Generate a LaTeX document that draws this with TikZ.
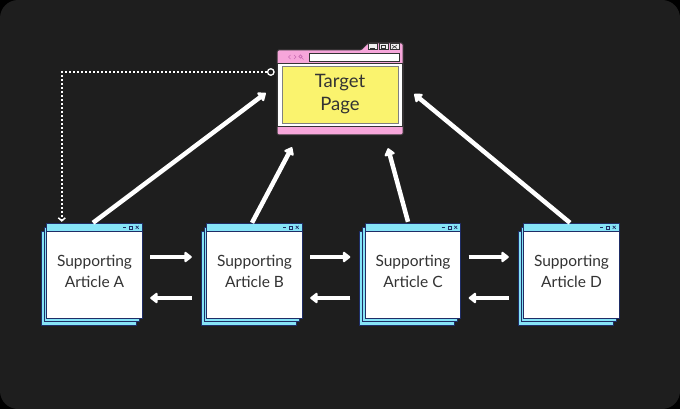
\documentclass[tikz,border=0pt]{standalone}
\usepackage{fontspec}
\setmainfont{Lato}
\usetikzlibrary{arrows.meta,calc}
\definecolor{bg}{HTML}{1E1E1E}
\definecolor{pinkc}{HTML}{F6A6DA}
\definecolor{pinkd}{HTML}{C86CB2}
\definecolor{yel}{HTML}{FAF36E}
\definecolor{cyanc}{HTML}{86E4F7}
\definecolor{navy}{HTML}{1F2D66}
\definecolor{framec}{HTML}{333333}
\definecolor{txt}{HTML}{333333}
\tikzset{
  cardedge/.style={draw=navy, line width=1.1pt},
  card/.style={fill=white, inner sep=0pt, minimum width=95pt, minimum height=94pt,
    align=center, text=txt, font=\fontsize{15.5}{21}\selectfont},
  tgtbox/.style={fill=yel, draw=gray, line width=0.9pt, inner sep=0pt, minimum width=116pt,
    minimum height=57pt, align=center, text=txt, font=\fontsize{18.5}{23}\selectfont},
  bigarrow/.style={white, line width=4.5pt, -{Triangle[length=8pt,width=12pt,round]}},
  dotline/.style={white, line width=2pt, dash pattern=on 1.8pt off 2.2pt,
    -{Straight Barb[length=3pt,width=7pt,line width=1.5pt]}},
}
\newcommand\mkcard[4]{%
  \foreach \d in {2,1}{\draw[cardedge, fill=cyanc] (#2-47.5-2.8*\d, #3-47+3.8*\d) rectangle ++(95,94);}
  \node[card] (#1) at (#2,#3) {#4};
  \fill[cyanc] (#1.north west) rectangle ($(#1.north east)+(0,7)$);
  \draw[navy, line width=0.6pt] ($(#1.north west)+(0,7)$) -- ($(#1.north east)+(0,7)$);
  \draw[cardedge] (#1.north west) rectangle (#1.south east);
  \draw[navy, line width=0.6pt] ($(#1.north east)+(-19,3.5)$) -- ++(3,0);
  \draw[navy, line width=0.6pt] ($(#1.north east)+(-12.5,2)$) rectangle ++(3,3);
  \draw[navy, line width=0.6pt] ($(#1.north east)+(-6.5,2)$) -- ++(3,3) ($(#1.north east)+(-6.5,5)$) -- ++(3,-3);
}
\begin{document}
\begin{tikzpicture}[x=1pt,y=-1pt]
\fill[black] (0,0) rectangle (680,409);
\fill[bg, rounded corners=18pt] (0,0) rectangle (680,409);
\useasboundingbox (0,0) rectangle (680,409);

% target window
\draw[framec, line width=1pt, fill=pinkc, rounded corners=1.5pt]
  (277,135) -- (277,50) -- (361,50) -- (368,43) -- (403,43) -- (403,135) -- cycle;
\draw[framec, line width=0.6pt, fill=white] (277.5,63) rectangle (402.5,126);
\draw[framec, line width=0.6pt, fill=white] (309,53) rectangle (399,61);
\foreach \bx in {368,379,390}{\draw[framec, line width=0.6pt, fill=white!88!gray] (\bx,43.5) rectangle ++(9,6);}
\draw[framec, line width=0.6pt] (370,48) -- (375,48);
\draw[framec, line width=0.6pt] (381.5,45) rectangle (385.5,48.5);
\draw[framec, line width=0.6pt] (392,45) -- (397,48.5) (392,48.5) -- (397,45);
\draw[pinkd, line width=0.6pt] (290.5,55) -- (288.5,57) -- (290.5,59) (294,55) -- (296,57) -- (294,59);
\draw[pinkd, line width=0.6pt] (300.5,56.5) circle (1.6) (301.7,57.7) -- (303.5,59.5);
\node[tgtbox] (tgt) at (340,94.5) {Target\\Page};
\node[inner sep=0pt, minimum width=126pt, minimum height=92pt] (win) at (340,89) {};

% cards
\mkcard{A}{94.5}{271}{Supporting\\Article A}
\mkcard{B}{254.5}{271}{Supporting\\Article B}
\mkcard{C}{413}{271}{Supporting\\Article C}
\mkcard{D}{571.5}{271}{Supporting\\Article D}

% arrows to target
\draw[bigarrow] ($(A.north)+(-1.5,-1)$) -- ($(win.west)+(-11,4)$);
\draw[bigarrow] ($(B.north)+(-2.5,-1)$) -- ($(win.south)+(-48,12)$);
\draw[bigarrow] ($(C.north)+(-5,-2)$) -- ($(win.south)+(48,13)$);
\draw[bigarrow] ($(D.north)+(-1.5,-1)$) -- ($(win.east)+(11,5)$);

% horizontal arrows
\draw[bigarrow] ($(A.east)+(8,-14)$) -- ($(B.west)+(-15,-14)$);
\draw[bigarrow] ($(B.west)+(-15,27)$) -- ($(A.east)+(8,27)$);
\draw[bigarrow] ($(B.east)+(8,-14)$) -- ($(C.west)+(-15,-14)$);
\draw[bigarrow] ($(C.west)+(-15,27)$) -- ($(B.east)+(8,27)$);
\draw[bigarrow] ($(C.east)+(8,-14)$) -- ($(D.west)+(-15,-14)$);
\draw[bigarrow] ($(D.west)+(-15,27)$) -- ($(C.east)+(8,27)$);

% dotted link
\node[circle, draw=white, line width=1.3pt, fill=bg, inner sep=0pt, minimum size=6.5pt] (dot) at ($(win.west)+(-6,-17)$) {};
\draw[dotline] (dot.west) -| ($(A.north west)+(15,-2)$);
\end{tikzpicture}
\end{document}
